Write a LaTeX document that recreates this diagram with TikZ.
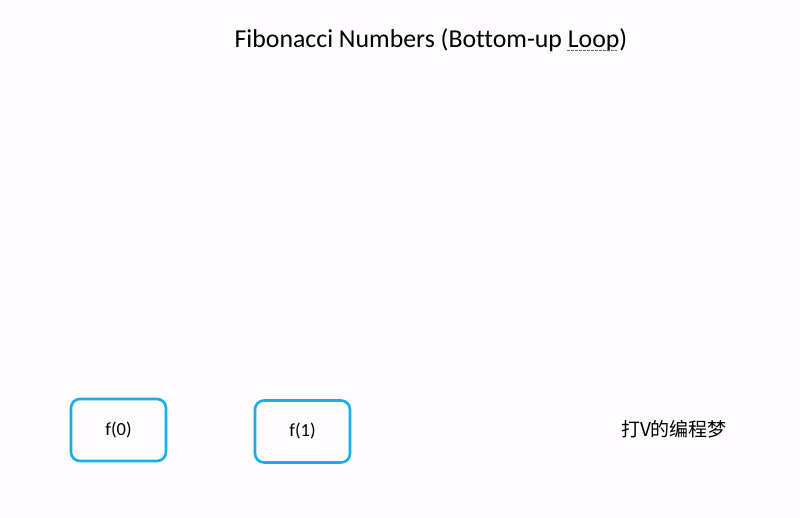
\documentclass[tikz,border=0pt]{standalone}
\usepackage{fontspec}
\setmainfont[Ligatures=NoCommon]{Carlito}
\newfontfamily\cjk{Noto Sans CJK SC}
\definecolor{boxblue}{RGB}{20,176,228}
\definecolor{bgc}{RGB}{254,252,254}
\begin{document}
\begin{tikzpicture}[x=1pt,y=-1pt,
  fbox/.style={draw=boxblue,line width=2.6pt,rounded corners=9pt,minimum width=95pt,minimum height=62pt,inner sep=0pt,font=\fontsize{18.5}{20}\selectfont},
  lbl/.style={inner sep=0pt}]
\fill[bgc] (0,0) rectangle (800,518);
\useasboundingbox (0,0) rectangle (800,518);
\node[lbl,font=\fontsize{25.8}{28}\selectfont,anchor=base] (title) at (431,48) {Fibonacci Numbers (Bottom-up Loop)};
\coordinate (u1) at (567,50.5);
\coordinate (u2) at (617,50.5);
\draw[black!60,line width=0.9pt,dash pattern=on 2.5pt off 1.5pt] (u1) -- (u2);
\node[fbox] (f0) at (118.5,430) {f(0)};
\node[fbox] (f1) at (302.5,431.5) {f(1)};
\node[lbl,font=\cjk\fontsize{19}{21}\selectfont] (wm) at (674,429) {打V的编程梦};
\end{tikzpicture}
\end{document}
